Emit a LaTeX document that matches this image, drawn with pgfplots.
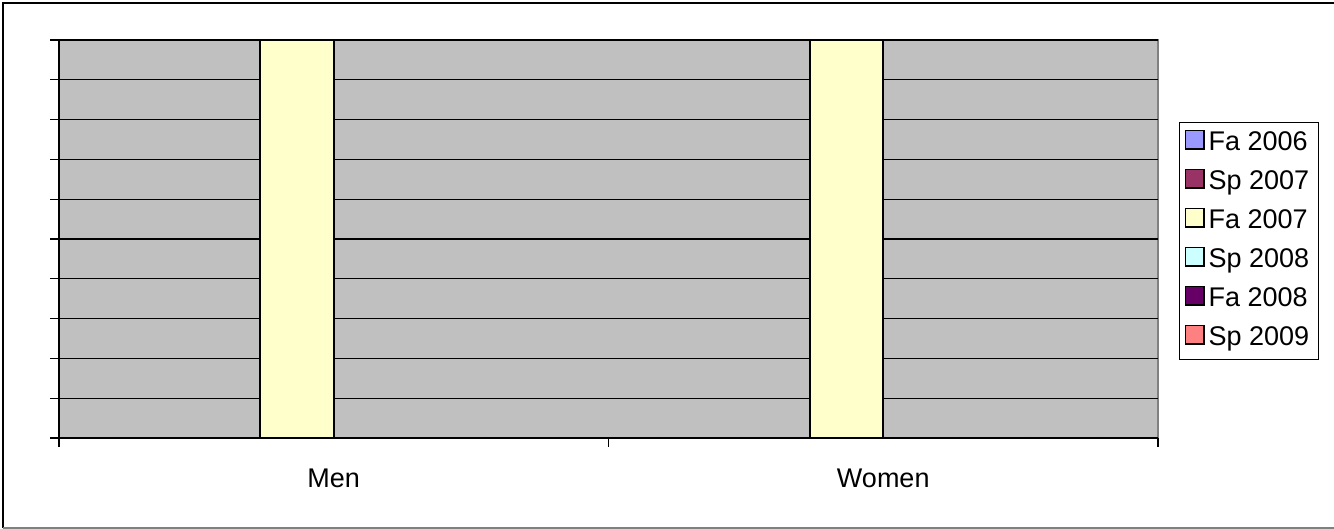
\documentclass[border=0pt]{standalone}
\usepackage{pgfplots}
\pgfplotsset{compat=1.18}
\usepackage{fontspec}
\setmainfont{Liberation Sans}
\usetikzlibrary{calc}

\definecolor{plotbg}{HTML}{C0C0C0}
\definecolor{sA}{HTML}{9999FF}
\definecolor{sB}{HTML}{993366}
\definecolor{sC}{HTML}{FFFFCC}
\definecolor{sD}{HTML}{CCFFFF}
\definecolor{sE}{HTML}{660066}
\definecolor{sF}{HTML}{FF8080}

\begin{document}
\begin{tikzpicture}
\begin{axis}[
    scale only axis,
    width=549.5pt, height=199pt,
    font=\fontsize{13.5}{16}\selectfont,
    ybar=0pt,
    bar width=0.13333,
    xmin=-0.5, xmax=1.5,
    ymin=0, ymax=1,
    axis lines*=left,
    axis line style={black, line width=0.8pt},
    axis background/.style={fill=plotbg, draw=gray, line width=1pt},
    xtick={-0.5,0.5,1.5},
    xticklabels={},
    extra x ticks={0,1},
    extra x tick labels={Men,Women},
    extra x tick style={major tick length=0pt, xticklabel style={yshift=-12pt}},
    ytick={0,0.1,...,1.01},
    yticklabels={},
    tick align=outside,
    major tick length=4.3pt,
    tick style={black, line width=0.6pt},
    ymajorgrids,
    grid style={black, line width=0.55pt},
    legend style={at={(1,0.5)}, anchor=west, xshift=10.5pt, yshift=-1pt,
        draw=black, line width=0.6pt, fill=white,
        font=\fontsize{13.5}{16}\selectfont,
        row sep=3.2pt, inner sep=2.5pt,
        nodes={inner sep=2pt, text height=9.5pt, text depth=2.8pt, anchor=west},
        legend cell align=left},
    legend image code/.code={\draw[#1, line width=0.8pt] (1.6pt,-2.8pt) rectangle (10.8pt,6.4pt);},
    every axis plot/.append style={draw=black, line width=1pt},
]
\addplot[fill=sA] coordinates {(0,0) (1,0)};
\addlegendentry{Fa 2006}
\addplot[fill=sB] coordinates {(0,0) (1,0)};
\addlegendentry{Sp 2007}
\addplot[fill=sC] coordinates {(0,1) (1,1)};
\addlegendentry{Fa 2007}
\addplot[fill=sD] coordinates {(0,0) (1,0)};
\addlegendentry{Sp 2008}
\addplot[fill=sE] coordinates {(0,0) (1,0)};
\addlegendentry{Fa 2008}
\addplot[fill=sF] coordinates {(0,0) (1,0)};
\addlegendentry{Sp 2009}
\coordinate (ll) at (rel axis cs:0,0);
\coordinate (ur) at (rel axis cs:1,1);
\end{axis}
\pgfresetboundingbox
\path[use as bounding box] ($(ll)+(-29.5pt,-45.5pt)$) rectangle ($(ur)+(88pt,20pt)$);
\draw[black, line width=1pt] ($(ll)+(-27.75pt,-45pt)$) -- ($(ll|-ur)+(-27.75pt,18.5pt)$) -- ($(ur)+(91pt,18.5pt)$);
\draw[gray, line width=1pt] ($(ll)+(-27.75pt,-45pt)$) -- ($(ur|-ll)+(91pt,-45pt)$);
\end{tikzpicture}
\end{document}
